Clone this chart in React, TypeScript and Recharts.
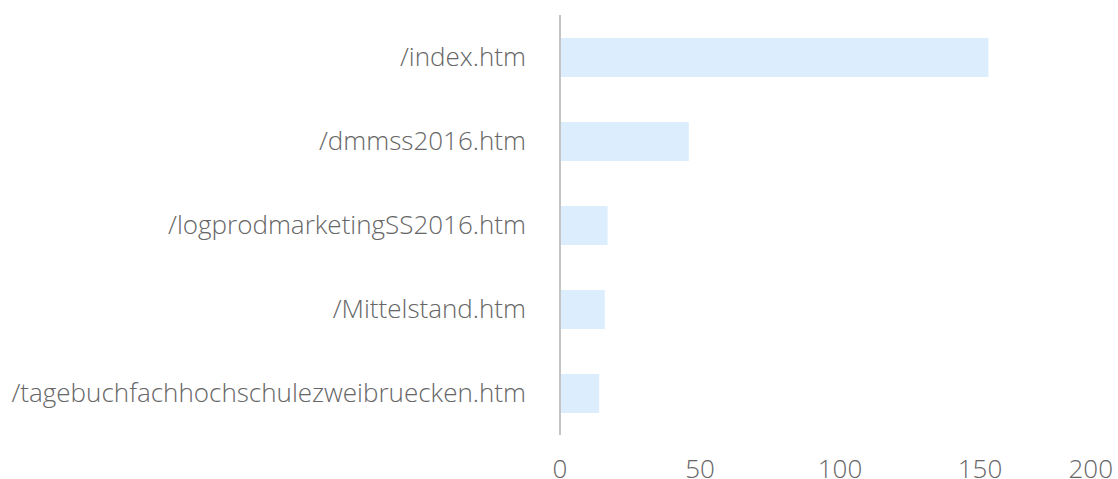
import React from "react";
import { BarChart, Bar, XAxis, YAxis } from "recharts";

const categories = [
  "/index.htm",
  "/dmmss2016.htm",
  "/logprodmarketingSS2016.htm",
  "/Mittelstand.htm",
  "/tagebuchfachhochschulezweibruecken.htm",
];
const pageViews = [153, 46, 17, 16, 14];
const xTicks = [0, 50, 100, 150, 200];

const data = categories.map((name, i) => ({ name, value: pageViews[i] }));

const FONT = "'Open Sans', sans-serif";
const TEXT = "#666666";
const FS = 26;

const XTick = (props: any) => {
  const { x, y, payload, index } = props;
  const last = index === xTicks.length - 1;
  return (
    <text
      x={last ? x - 7 : x}
      y={y}
      dy="0.71em"
      textAnchor={last ? "end" : "middle"}
      fill={TEXT}
      fontSize={FS}
      fontWeight={300}
      fontFamily={FONT}
    >
      {payload.value}
    </text>
  );
};

export default function App() {
  return (
    <div
      style={{
        position: "absolute",
        left: 0,
        top: 0,
        width: 1118,
        height: 479,
        overflow: "hidden",
        background: "#fff",
      }}
    >
      <BarChart
        width={1122}
        height={479}
        data={data}
        layout="vertical"
        margin={{ top: 15, right: 2, bottom: 0, left: 0 }}
        barSize={39}
      >
        <XAxis
          type="number"
          domain={[0, 200]}
          ticks={xTicks}
          axisLine={false}
          tickLine={false}
          tickSize={0}
          tickMargin={25}
          height={44}
          tick={<XTick />}
          interval={0}
        />
        <YAxis
          type="category"
          dataKey="name"
          width={560}
          axisLine={{ stroke: "#c4c4c4", strokeWidth: 2 }}
          tickLine={false}
          tickSize={0}
          tickMargin={34}
          interval={0}
          tick={{ fill: TEXT, fontSize: FS, fontWeight: 300, fontFamily: FONT }}
        />
        <Bar dataKey="value" fill="#dcedfd" isAnimationActive={false} />
      </BarChart>
    </div>
  );
}
